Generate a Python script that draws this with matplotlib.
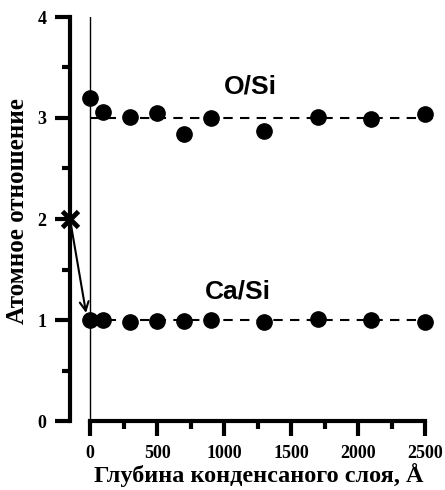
import numpy as np
import matplotlib.pyplot as plt
from matplotlib.ticker import MultipleLocator

# глубина, A
depth = [0, 100, 300, 500, 700, 900, 1300, 1700, 2100, 2500]
o_si = [3.20, 3.06, 3.01, 3.05, 2.84, 3.00, 2.87, 3.01, 2.99, 3.04]
ca_si = [1.00, 1.00, 0.98, 0.99, 0.99, 1.00, 0.98, 1.01, 1.00, 0.98]
o_si_ref = 3
ca_si_ref = 1
ref_end = 2590

# исходное значение (мишень) и куда стрелка
start_x, start_y = -150, 2
arrow_x, arrow_y = -30, 1.07

plt.rcParams['font.family'] = ['Liberation Serif', 'DejaVu Serif']
plt.rcParams['font.weight'] = 'bold'
plt.rcParams['axes.labelweight'] = 'bold'
sans = 'Liberation Sans'

fig = plt.figure(figsize=(4.45, 4.9), dpi=100)
ax = fig.add_axes([70 / 445, 69 / 490, 368.4 / 445, 404 / 490])

ax.set_xlim(-150, 2600)
ax.set_ylim(0, 4)

ax.axvline(0, color='black', lw=1)

ax.hlines([o_si_ref, ca_si_ref], 0, ref_end, colors='black', lw=1.5,
          linestyles=(0, (4.5, 3.5)))

ax.plot(depth, o_si, 'o', color='black', ms=11, clip_on=False)
ax.plot(depth, ca_si, 'o', color='black', ms=11, clip_on=False)

ax.plot(start_x, start_y, 'x', color='black', ms=12, mew=3.5, clip_on=False, zorder=5)
ax.annotate('', xy=(arrow_x, arrow_y), xytext=(start_x, start_y),
            arrowprops=dict(arrowstyle='->', lw=1.5, color='black',
                            shrinkA=0, shrinkB=0, mutation_scale=16))

ax.text(1194, 3.31, 'O/Si', family=sans, weight='bold', fontsize=19,
        ha='center', va='center')
ax.text(1100, 1.28, 'Ca/Si', family=sans, weight='bold', fontsize=19,
        ha='center', va='center')

for s in ['top', 'right']:
    ax.spines[s].set_visible(False)
ax.spines['left'].set_bounds(0, 4)
ax.spines['bottom'].set_bounds(0, 2500)
ax.spines['left'].set_linewidth(3)
ax.spines['bottom'].set_linewidth(3)

ax.xaxis.set_major_locator(MultipleLocator(500))
ax.xaxis.set_minor_locator(MultipleLocator(250))
ax.yaxis.set_major_locator(MultipleLocator(1))
ax.yaxis.set_minor_locator(MultipleLocator(0.5))
ax.tick_params(which='major', length=11, width=3, direction='out', labelsize=13)
ax.tick_params(which='minor', length=6, width=3, direction='out')
ax.tick_params(axis='x', which='major', pad=6)
ax.tick_params(axis='y', which='major', pad=6)

ax.set_xlabel('Глубина конденсаного слоя, Å', fontsize=17.5, fontweight='bold')
ax.set_ylabel('Атомное отношение', fontsize=18, fontweight='bold')
ax.xaxis.set_label_coords(0.513, -0.104)
ax.yaxis.set_label_coords(-0.11, 0.52)

fig.savefig('out.png', dpi=100)
